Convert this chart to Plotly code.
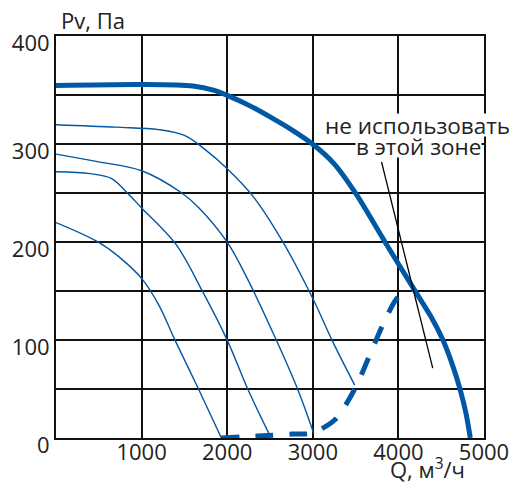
import plotly.graph_objects as go

# ---- data (Q in m3/h, Pv in Pa) ----
main_q = [0, 1000, 1600, 1850, 2000, 2250, 2500, 2750, 3000, 3250, 3500, 3845, 4196, 4380, 4520, 4630, 4720, 4790, 4840]
main_p = [360, 361, 359.5, 355, 350, 340, 328, 315, 300, 280, 250, 200, 150, 124, 100, 75, 50, 25, 0]

c1_q = [0, 700, 1200, 1500, 1750, 2000, 2300, 2645, 3003, 3224, 3490]
c1_p = [320, 317.5, 315, 309, 294, 275, 247, 201, 142, 100, 54]

c2_q = [0, 500, 1000, 1457, 1665, 2000, 2240, 2579, 2822, 3010]
c2_p = [290, 282, 273, 251, 235.5, 200, 162, 99, 50, 5]

c3_q = [0, 400, 650, 825, 1000, 1400, 1710, 2000, 2240, 2485]
c3_p = [272, 270, 265, 251, 235, 198, 150, 100, 50, 5]

c4_q = [0, 494, 750, 1000, 1200, 1390, 1665, 1932]
c4_p = [220, 200, 184, 163, 136, 100, 50, 0]

limit_q = [1930, 2356, 2760, 2988, 3258, 3490, 3664, 3838, 3977, 4097, 4180]
limit_p = [0, 2, 4, 5, 18.6, 50, 84.5, 119.5, 142, 151, 152]

pointer_q = [3803, 4401]
pointer_p = [282, 71.4]

x_ticks = [0, 1000, 2000, 3000, 4000, 5000]
x_labels = ["", "1000", "2000", "3000", "4000", "5000"]
y_ticks = [0, 50, 100, 150, 200, 250, 300, 350, 410.6]
y_labels = ["0", "", "100", "", "200", "", "300", "", "400"]

BLUE = "#0057a4"
FONT = "Open Sans"

fig = go.Figure()
for q, p in [(c1_q, c1_p), (c2_q, c2_p), (c3_q, c3_p), (c4_q, c4_p)]:
    fig.add_trace(go.Scatter(x=q, y=p, mode="lines",
                             line=dict(color=BLUE, width=1.4, shape="spline", smoothing=1.0),
                             hoverinfo="skip"))
fig.add_trace(go.Scatter(x=limit_q, y=limit_p, mode="lines",
                         line=dict(color=BLUE, width=5, dash="18px,16px", shape="spline", smoothing=0.8),
                         hoverinfo="skip"))
fig.add_trace(go.Scatter(x=main_q, y=main_p, mode="lines",
                         line=dict(color=BLUE, width=5, shape="spline", smoothing=0.8),
                         hoverinfo="skip"))
fig.add_trace(go.Scatter(x=pointer_q, y=pointer_p, mode="lines",
                         line=dict(color="black", width=1.3), hoverinfo="skip"))

axis_common = dict(showgrid=True, gridcolor="#111111", gridwidth=1.6,
                   showline=True, linecolor="#111111", linewidth=2, mirror=True,
                   zeroline=False, ticks="", fixedrange=True, automargin=False,
                   tickfont=dict(family=FONT, size=22, color="#222222"))

fig.update_xaxes(range=[0, 5000], tickmode="array", tickvals=x_ticks, ticktext=x_labels,
                 ticklabelstandoff=-6, **axis_common)
fig.update_yaxes(range=[0, 410.6], tickmode="array", tickvals=y_ticks, ticktext=y_labels,
                 ticklabelshift=7, **axis_common)

ann_font = dict(family=FONT, size=22, color="#222222")
txt_font = dict(family=FONT, size=22.5, color="#222222")
fig.update_layout(
    width=514, height=483,
    margin=dict(l=56, r=30, t=36, b=45, autoexpand=False),
    paper_bgcolor="white", plot_bgcolor="white",
    showlegend=False,
    annotations=[
        dict(text="Pv, Па", xref="paper", yref="paper", x=0.0864, y=1.039,
             xanchor="center", yanchor="middle", showarrow=False, font=ann_font),
        dict(text="Q, м<sup>3</sup>/ч", xref="paper", yref="paper", x=0.869, y=-0.076,
             xanchor="center", yanchor="middle", showarrow=False, font=ann_font),
        dict(text="не использовать", xref="paper", yref="paper", x=0.8446, y=0.778,
             xanchor="center", yanchor="middle", showarrow=False, font=txt_font,
             bgcolor="white", borderpad=0, height=22),
        dict(text="в этой зоне", xref="paper", yref="paper", x=0.8458, y=0.726,
             xanchor="center", yanchor="middle", showarrow=False, font=txt_font,
             bgcolor="white", borderpad=0, height=22),
    ],
)

fig.write_html("out.html", config={"displayModeBar": False},
               post_script="document.body.style.margin='0px';")
